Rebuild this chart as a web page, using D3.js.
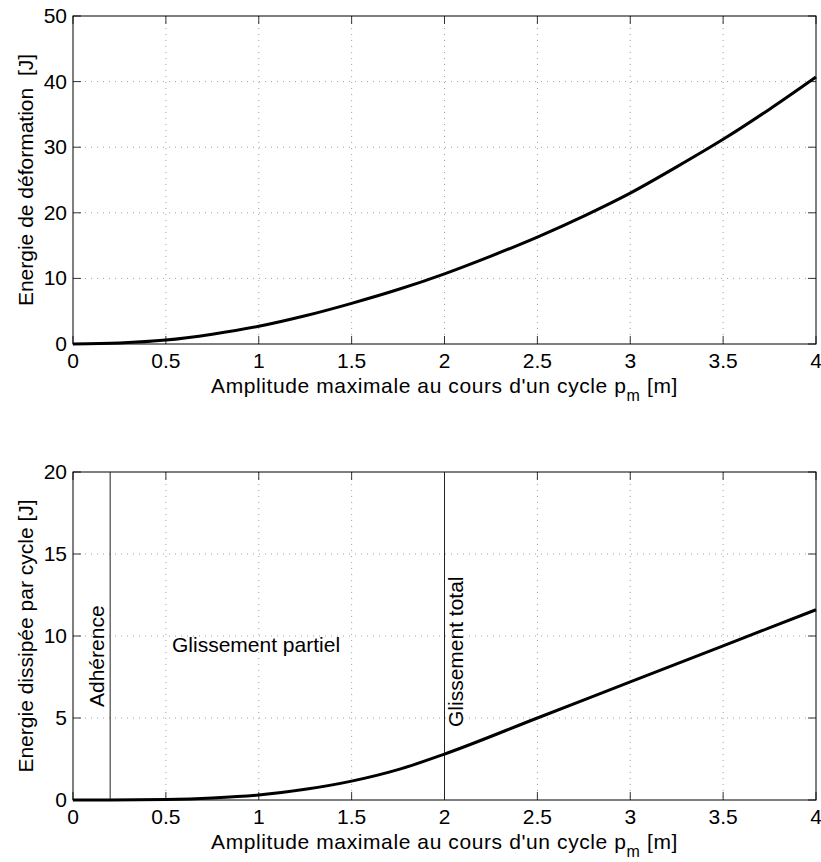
<!DOCTYPE html>
<html>
<head>
<meta charset="utf-8">
<script src="https://cdn.jsdelivr.net/npm/d3@7"></script>
<style>
  body { margin: 0; background: #fff; }
  text { font-family: Arial, "Liberation Sans", Helvetica, sans-serif; fill: #000; }
</style>
</head>
<body>
<div id="chart"></div>
<script>
// amplitude p_m [m]
const ampTop = [0, 0.25, 0.5, 0.75, 1, 1.25, 1.5, 1.75, 2, 2.25, 2.5, 2.75, 3, 3.25, 3.5, 3.75, 4];
// energie de deformation [J]
const energyDef = [0, 0.15, 0.6, 1.5, 2.7, 4.3, 6.2, 8.3, 10.7, 13.4, 16.3, 19.5, 23.0, 27.0, 31.2, 35.8, 40.7];

const ampBot = [0, 0.2, 0.5, 0.75, 1, 1.25, 1.5, 1.75, 2, 2.5, 3, 3.5, 4];
// energie dissipee par cycle [J]
const energyDiss = [0, 0, 0.03, 0.12, 0.3, 0.65, 1.15, 1.85, 2.8, 5.0, 7.2, 9.4, 11.6];

const xTicks = [0, 0.5, 1, 1.5, 2, 2.5, 3, 3.5, 4];
const yTicksTop = [0, 10, 20, 30, 40, 50];
const yTicksBot = [0, 5, 10, 15, 20];

const regimeLines = [0.2, 2];
const notes = [
  { text: 'Adhérence', x: 0.167, y: 5.67, rotate: true },
  { text: 'Glissement partiel', x: 0.533, y: 9.02, rotate: false },
  { text: 'Glissement total', x: 2.1, y: 4.45, rotate: true }
];

const width = 821, height = 862;
const svg = d3.select('#chart').append('svg')
  .attr('width', width)
  .attr('height', height);

const left = 73, right = 816;
const x = d3.scaleLinear().domain([0, 4]).range([left, right]);

function drawAxes(top, bottom, yMax, yTicks, ylabel) {
  const y = d3.scaleLinear().domain([0, yMax]).range([bottom, top]);
  const g = svg.append('g');

  // grid
  g.selectAll('.gx').data(xTicks.slice(1, -1)).enter().append('line')
    .attr('x1', d => x(d)).attr('x2', d => x(d))
    .attr('y1', top).attr('y2', bottom)
    .attr('stroke', '#a0a0a0').attr('stroke-width', 1)
    .attr('stroke-dasharray', '1,5');
  g.selectAll('.gy').data(yTicks.slice(1, -1)).enter().append('line')
    .attr('y1', d => y(d)).attr('y2', d => y(d))
    .attr('x1', left).attr('x2', right)
    .attr('stroke', '#a0a0a0').attr('stroke-width', 1)
    .attr('stroke-dasharray', '1,5');

  // ticks inside, all four sides
  const tl = 8;
  xTicks.forEach(d => {
    g.append('line').attr('x1', x(d)).attr('x2', x(d)).attr('y1', bottom).attr('y2', bottom - tl)
      .attr('stroke', '#333');
    g.append('line').attr('x1', x(d)).attr('x2', x(d)).attr('y1', top).attr('y2', top + tl)
      .attr('stroke', '#333');
  });
  yTicks.forEach(d => {
    g.append('line').attr('y1', y(d)).attr('y2', y(d)).attr('x1', left).attr('x2', left + tl)
      .attr('stroke', '#333');
    g.append('line').attr('y1', y(d)).attr('y2', y(d)).attr('x1', right).attr('x2', right - tl)
      .attr('stroke', '#333');
  });

  // box
  g.append('rect')
    .attr('x', left).attr('y', top)
    .attr('width', right - left).attr('height', bottom - top)
    .attr('fill', 'none').attr('stroke', '#000').attr('stroke-width', 1);

  // tick labels
  g.selectAll('.xt').data(xTicks).enter().append('text')
    .attr('x', d => x(d)).attr('y', bottom + 24)
    .attr('text-anchor', 'middle')
    .attr('font-size', 21)
    .text(d => d);
  g.selectAll('.yt').data(yTicks).enter().append('text')
    .attr('x', left - 6).attr('y', d => y(d) + 7)
    .attr('text-anchor', 'end')
    .attr('font-size', 21)
    .text(d => d);

  // x label
  const xl = g.append('text')
    .attr('x', (left + right) / 2).attr('y', bottom + 49)
    .attr('text-anchor', 'middle')
    .attr('font-size', 21)
    .attr('letter-spacing', 0.6);
  xl.append('tspan').text("Amplitude maximale au cours d'un cycle p");
  xl.append('tspan').attr('dy', 8).attr('font-size', 16).text('m');
  xl.append('tspan').attr('dy', -8).text(' [m]');

  // y label
  g.append('text')
    .attr('transform', `translate(33,${(top + bottom) / 2}) rotate(-90)`)
    .attr('text-anchor', 'middle')
    .attr('font-size', 21)
    .attr('xml:space', 'preserve')
    .text(ylabel);

  return { g, y };
}

const line = d3.line().curve(d3.curveMonotoneX);

// top plot
const p1 = drawAxes(16, 344, 50, yTicksTop, 'Energie de déformation  [J]');
p1.g.append('path')
  .attr('d', line(ampTop.map((d, i) => [x(d), p1.y(energyDef[i])])))
  .attr('fill', 'none').attr('stroke', '#000').attr('stroke-width', 3);

// bottom plot
const p2 = drawAxes(472, 800, 20, yTicksBot, 'Energie dissipée par cycle [J]');
p2.g.selectAll('.reg').data(regimeLines).enter().append('line')
  .attr('x1', d => x(d)).attr('x2', d => x(d))
  .attr('y1', 472).attr('y2', 800)
  .attr('stroke', '#222').attr('stroke-width', 1);
p2.g.append('path')
  .attr('d', line(ampBot.map((d, i) => [x(d), p2.y(energyDiss[i])])))
  .attr('fill', 'none').attr('stroke', '#000').attr('stroke-width', 3);

p2.g.selectAll('.note').data(notes).enter().append('text')
  .attr('transform', d => `translate(${x(d.x)},${p2.y(d.y)})` + (d.rotate ? ' rotate(-90)' : ''))
  .attr('font-size', 21)
  .text(d => d.text);
</script>
</body>
</html>
